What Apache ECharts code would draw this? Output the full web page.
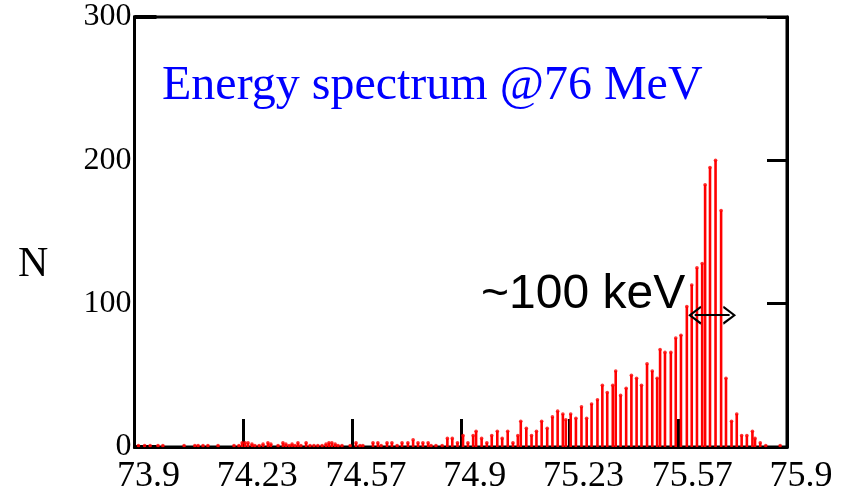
<!DOCTYPE html>
<html><head><meta charset="utf-8">
<script src="https://cdn.jsdelivr.net/npm/echarts@6/dist/echarts.min.js"></script>
<style>html,body{margin:0;padding:0;background:#fff}#c{width:843px;height:498px}</style>
</head><body><div id="c"></div>
<script>
// Energy (MeV) of each histogram bar
const energy = [
  73.912, 73.931, 73.948, 73.972, 73.987, 74.052, 74.085, 74.095, 74.110, 74.125,
  74.156, 74.205, 74.220, 74.230, 74.239, 74.248, 74.260, 74.269, 74.282, 74.294,
  74.309, 74.318, 74.340, 74.355, 74.364, 74.374, 74.383, 74.392, 74.401, 74.410,
  74.426, 74.438, 74.450, 74.462, 74.475, 74.487, 74.496, 74.505, 74.515, 74.524,
  74.536, 74.561, 74.579, 74.591, 74.600, 74.631, 74.646, 74.656, 74.674, 74.689,
  74.705, 74.720, 74.738, 74.754, 74.769, 74.784, 74.800, 74.809, 74.824, 74.843,
  74.859, 74.874, 74.890, 74.907, 74.922, 74.938, 74.947, 74.964, 74.980, 74.995,
  75.012, 75.027, 75.044, 75.060, 75.075, 75.084, 75.101, 75.117, 75.132, 75.148,
  75.165, 75.181, 75.197, 75.213, 75.222, 75.237, 75.253, 75.270, 75.286, 75.301,
  75.319, 75.334, 75.349, 75.366, 75.375, 75.390, 75.407, 75.423, 75.439, 75.454,
  75.471, 75.487, 75.502, 75.511, 75.526, 75.544, 75.559, 75.575, 75.593, 75.608,
  75.624, 75.640, 75.649, 75.664, 75.681, 75.698, 75.713, 75.730, 75.746, 75.761,
  75.777, 75.794, 75.802, 75.818, 75.835, 75.879
];
// Counts N of each bar
const counts = [
  1, 1, 1, 1, 1, 1, 1, 1, 1, 1,
  1, 1, 1, 3, 3, 3, 2, 1, 1, 2,
  3, 2, 1, 3, 2, 1, 2, 1, 3, 1,
  3, 1, 1, 1, 1, 2, 3, 3, 2, 1,
  1, 1, 3, 1, 1, 3, 3, 1, 3, 3,
  1, 3, 3, 5, 3, 3, 3, 1, 1, 1,
  6, 6, 3, 8, 3, 8, 11, 6, 3, 8,
  11, 6, 11, 3, 8, 18, 13, 8, 11, 18,
  13, 21, 25, 23, 19, 23, 20, 28, 20, 30,
  33, 43, 38, 43, 53, 36, 41, 50, 48, 43,
  58, 53, 48, 68, 66, 66, 76, 78, 98, 113,
  125, 128, 183, 195, 200, 165, 48, 18, 23, 8,
  8, 11, 6, 3, 1, 1
];
const xTickLabels = ['73.9', '74.23', '74.57', '74.9', '75.23', '75.57', '75.9'];
const yMin = 0, yMax = 300, yStep = 100;
const titleText = 'Energy spectrum @76 MeV';
const yName = 'N';
const widthLabel = '~100 keV';
const widthArrow = [[75.617, 92], [75.724, 92]];

const chart = echarts.init(document.getElementById('c'), null, {renderer: 'canvas'});
const pts = energy.map((e, i) => [e, counts[i]]);
const chevron = 'path://M10,0 L20,13 L17.6,13.6 L10,3.5 L2.4,13.6 L0,13 Z';
const serif = '"Liberation Serif", "Times New Roman", serif';
const sans = '"Liberation Sans", Arial, sans-serif';

chart.setOption({
  animation: false,
  backgroundColor: '#fff',
  grid: {left: 134.5, right: 56, top: 17, bottom: 51, show: true,
         borderColor: '#000', borderWidth: 3, backgroundColor: 'transparent',
         containLabel: false, outerBoundsMode: 'none'},
  xAxis: [
    {type: 'value', min: 73.9, max: 75.9, show: false},
    {type: 'category', data: xTickLabels, boundaryGap: false, position: 'bottom',
     axisLine: {show: true, lineStyle: {color: '#000', width: 3}},
     axisTick: {show: true, inside: true, length: 28, lineStyle: {color: '#000', width: 3}},
     axisLabel: {show: true, color: '#000', fontFamily: serif, fontSize: 36, margin: 12,
                 padding: [0, 0, 0, 28], interval: 0},
     splitLine: {show: false}}
  ],
  yAxis: [
    {type: 'value', min: yMin, max: yMax, interval: yStep, position: 'left',
     axisLine: {show: true, lineStyle: {color: '#000', width: 3}},
     axisTick: {show: false},
     axisLabel: {color: '#000', fontFamily: serif, fontSize: 32, margin: 3},
     splitLine: {show: false}},
    {type: 'value', min: yMin, max: yMax, interval: yStep, position: 'right',
     axisLine: {show: true, lineStyle: {color: '#000', width: 3}},
     axisTick: {show: true, inside: true, length: 20, lineStyle: {color: '#000', width: 3}},
     axisLabel: {show: false},
     splitLine: {show: false}},
    {type: 'value', min: yMin, max: yMax, interval: yMax, position: 'left',
     axisLine: {show: false},
     axisTick: {show: true, inside: true, length: 22, lineStyle: {color: '#000', width: 4}},
     axisLabel: {show: false},
     splitLine: {show: false}}
  ],
  series: [
    {type: 'bar', xAxisIndex: 0, yAxisIndex: 0, data: pts, barWidth: 2.6,
     itemStyle: {color: '#ff0000'}, silent: true,
     markLine: {silent: true, symbol: [chevron, chevron], symbolSize: [19, 13],
       lineStyle: {color: '#000', width: 2, type: 'solid'}, label: {show: false},
       data: [[{coord: widthArrow[0]}, {coord: widthArrow[1]}]]}},
    {type: 'scatter', xAxisIndex: 0, yAxisIndex: 0, data: pts, symbol: 'circle',
     symbolSize: 3.6, itemStyle: {color: '#ff0000'}, silent: true}
  ],
  graphic: [
    {type: 'text', left: 162, top: 62, style: {text: titleText, font: '48px ' + serif, fill: '#0000ff'}},
    {type: 'text', left: 481, top: 271, style: {text: widthLabel, font: '48px ' + sans, fill: '#000'}},
    {type: 'text', left: 18, top: 244, style: {text: yName, font: '42px ' + serif, fill: '#000'}}
  ]
});
</script>
</body></html>
